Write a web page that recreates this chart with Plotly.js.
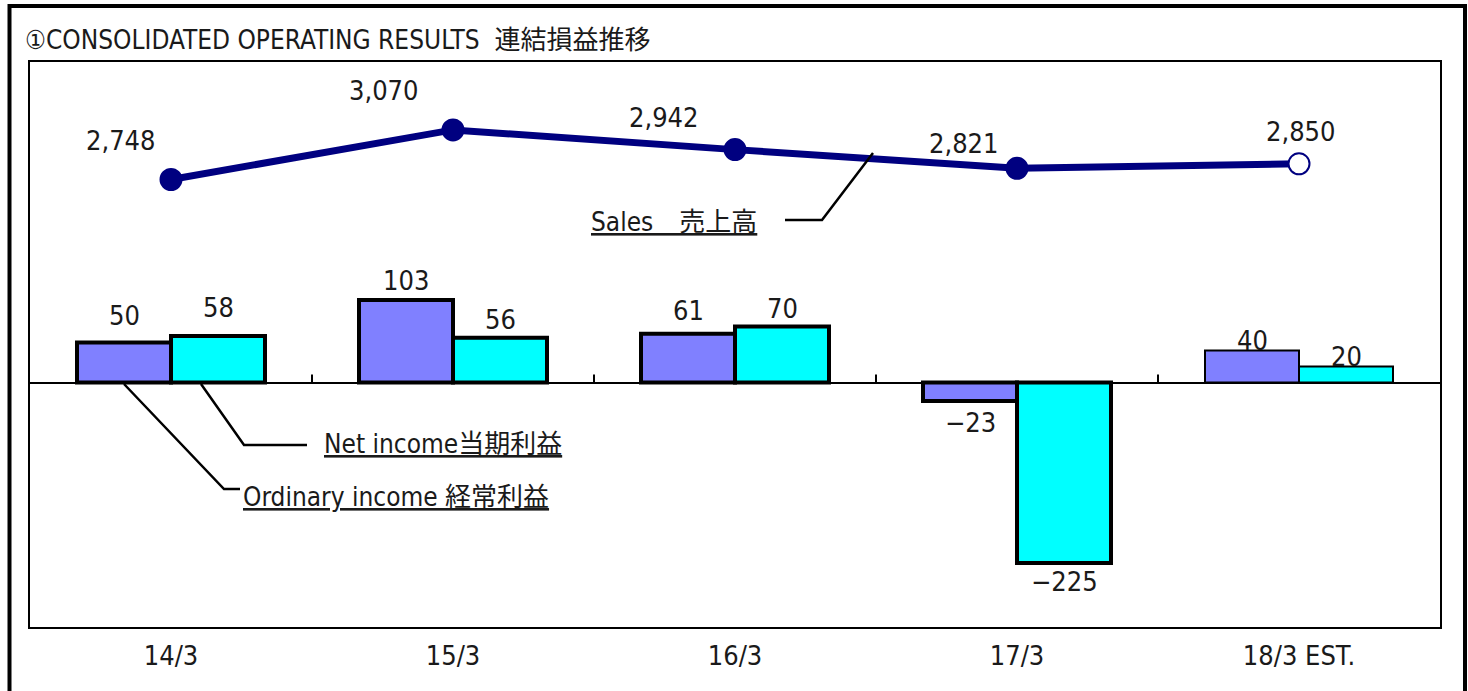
<!DOCTYPE html>
<html>
<head>
<meta charset="utf-8">
<script src="https://cdn.plot.ly/plotly-3.0.1.min.js"></script>
<style>
html, body { margin: 0; padding: 0; background: #fff; }
#chart { width: 1468px; height: 691px; }
</style>
</head>
<body>
<div id="chart"></div>
<script>
// ---- data ----
const categories = ['14/3', '15/3', '16/3', '17/3', '18/3 EST.'];
const ordinaryIncome = [50, 103, 61, -23, 40];
const netIncome = [58, 56, 70, -225, 20];
const sales = [2748, 3070, 2942, 2821, 2850];
const salesLabels = ['2,748', '3,070', '2,942', '2,821', '2,850'];

const titleText = '①CONSOLIDATED OPERATING RESULTS\u00a0\u00a0連結損益推移';
const salesName = 'Sales\u3000売上高';
const netName = 'Net income当期利益';
const ordName = 'Ordinary income 経常利益';

// ---- styling / layout ----
const FONT = '"Liberation Sans Narrow", "Arial Narrow", "DejaVu Sans Condensed", "Noto Sans CJK JP", sans-serif';
const TXT = '#1a1a1a';
const ML = 30, MR = 28, MT = 62, MB = 64, W = 1468, H = 691;
const PW = W - ML - MR, PH = H - MT - MB;
const px = x => (x - ML) / PW;
const py = y => (H - MB - y) / PH;

const lastIdx = categories.length - 1;
const barLineW = categories.map((c, i) => i === lastIdx ? 2 : 4);

const traces = [
  {
    type: 'bar', name: ordName, x: categories, y: ordinaryIncome,
    marker: { color: '#8080FF', line: { color: '#000', width: barLineW } },
    hoverinfo: 'skip'
  },
  {
    type: 'bar', name: netName, x: categories, y: netIncome,
    marker: { color: '#00FFFF', line: { color: '#000', width: barLineW } },
    hoverinfo: 'skip'
  },
  {
    type: 'scatter', mode: 'lines+markers', name: salesName,
    x: categories, y: sales, yaxis: 'y2', cliponaxis: false,
    line: { color: '#000080', width: 7 },
    marker: {
      size: 21, symbol: 'circle',
      color: categories.map((c, i) => i === lastIdx ? '#ffffff' : '#000080'),
      line: { color: '#000080', width: 2 }
    },
    hoverinfo: 'skip'
  }
];

const annotations = [];
const ordShift = [27, 20, 23, -21, 10];
const netShift = [29, 18, 18, -19, 10];
categories.forEach((c, i) => {
  annotations.push({
    xref: 'x', yref: 'y', x: i - 1/6, y: ordinaryIncome[i], yshift: ordShift[i],
    text: String(ordinaryIncome[i]).replace('-', '\u2212'), showarrow: false,
    xanchor: 'center', yanchor: 'middle', font: { family: FONT, size: 27, color: TXT }
  });
  annotations.push({
    xref: 'x', yref: 'y', x: i + 1/6, y: netIncome[i], yshift: netShift[i],
    text: String(netIncome[i]).replace('-', '\u2212'), showarrow: false,
    xanchor: 'center', yanchor: 'middle', font: { family: FONT, size: 27, color: TXT }
  });
});
const salesDx = [-50, -69, -71, -53, 2];
const salesDy = [39, 39, 32, 25, 32];
categories.forEach((c, i) => {
  annotations.push({
    xref: 'x', yref: 'y2', x: i, y: sales[i], xshift: salesDx[i], yshift: salesDy[i],
    text: salesLabels[i], showarrow: false,
    xanchor: 'center', yanchor: 'middle', font: { family: FONT, size: 27, color: TXT }
  });
});
// callout labels
[[salesName, 674, 222], [netName, 443, 444], [ordName, 396, 497]].forEach(([t, x, y]) => {
  annotations.push({
    xref: 'paper', yref: 'paper', x: px(x), y: py(y), text: '<u>' + t + '</u>',
    showarrow: false, xanchor: 'center', yanchor: 'middle',
    font: { family: FONT, size: 26, color: TXT }
  });
});

const pathOf = pts => pts.map((p, k) => (k ? 'L' : 'M') + px(p[0]) + ',' + py(p[1])).join(' ');
const shapes = [
  // outer frame
  { type: 'rect', xref: 'paper', yref: 'paper', x0: px(9.5), x1: px(1465), y0: py(700), y1: py(6),
    line: { color: '#000', width: 4 }, fillcolor: 'rgba(0,0,0,0)', layer: 'above' },
  // leader lines
  { type: 'path', xref: 'paper', yref: 'paper', path: pathOf([[785, 220], [822, 220], [873, 153]]),
    line: { color: '#000', width: 2.5 } },
  { type: 'path', xref: 'paper', yref: 'paper', path: pathOf([[307, 445], [244, 445], [201, 384]]),
    line: { color: '#000', width: 2.5 } },
  { type: 'path', xref: 'paper', yref: 'paper', path: pathOf([[240, 489], [224, 489], [124, 384]]),
    line: { color: '#000', width: 2.5 } }
];
// small tick marks at category boundaries on the zero line
for (let i = 0; i < categories.length - 1; i++) {
  shapes.push({ type: 'line', xref: 'x', yref: 'y', x0: i + 0.5, x1: i + 0.5,
    ysizemode: 'pixel', yanchor: 0, y0: 0, y1: 8, line: { color: '#000', width: 2 } });
}

const layout = {
  width: W, height: H,
  margin: { l: ML, r: MR, t: MT, b: MB, pad: 0 },
  paper_bgcolor: '#fff', plot_bgcolor: '#fff',
  showlegend: false,
  barmode: 'group', bargap: 1/3, bargroupgap: 0,
  title: {
    text: titleText, x: 25 / W, xanchor: 'left', xref: 'container',
    y: 1 - 40 / H, yanchor: 'middle', yref: 'container',
    font: { family: FONT, size: 26, color: TXT }
  },
  font: { family: FONT, color: TXT },
  xaxis: {
    type: 'category', showgrid: false, showline: true, mirror: true,
    linecolor: '#000', linewidth: 2, ticks: '', ticklabelstandoff: 4,
    tickfont: { family: FONT, size: 27, color: TXT }, fixedrange: true
  },
  yaxis: {
    range: [-305, 400], showgrid: false, showticklabels: false, ticks: '',
    showline: true, mirror: true, linecolor: '#000', linewidth: 2,
    zeroline: true, zerolinecolor: '#000', zerolinewidth: 2, fixedrange: true
  },
  yaxis2: {
    range: [-158, 3511], overlaying: 'y', side: 'right', visible: false,
    showgrid: false, zeroline: false, fixedrange: true
  },
  annotations: annotations,
  shapes: shapes
};

Plotly.newPlot('chart', traces, layout, { staticPlot: true, displayModeBar: false });
</script>
</body>
</html>
